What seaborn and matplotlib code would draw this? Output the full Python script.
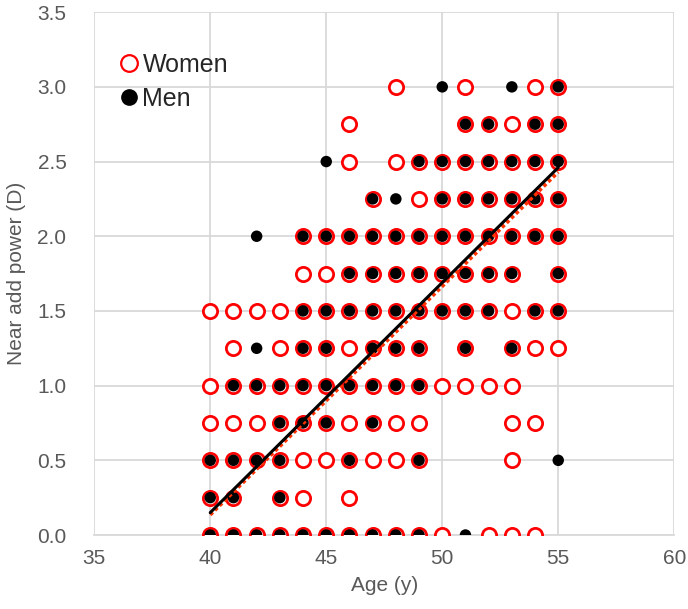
import numpy as np
import pandas as pd
import matplotlib
matplotlib.use("Agg")
import matplotlib.pyplot as plt
from matplotlib.lines import Line2D
import seaborn as sns

# near add power levels (D) and the ages (y) that have a point at each level
power_levels = [0.0, 0.25, 0.5, 0.75, 1.0, 1.25, 1.5, 1.75, 2.0, 2.25, 2.5, 2.75, 3.0]

women_ages = [
    [40, 41, 42, 43, 44, 45, 46, 47, 48, 49, 50, 52, 53, 54],
    [40, 41, 43, 44, 46],
    [40, 41, 42, 43, 44, 45, 46, 47, 48, 49, 53],
    [40, 41, 42, 43, 44, 45, 46, 47, 48, 49, 53, 54],
    [40, 41, 42, 43, 44, 45, 46, 47, 48, 49, 50, 51, 52, 53],
    [41, 43, 44, 45, 46, 47, 48, 49, 51, 53, 54, 55],
    [40, 41, 42, 43, 44, 45, 46, 47, 48, 49, 50, 51, 52, 53, 54, 55],
    [44, 45, 46, 47, 48, 49, 50, 51, 52, 53, 55],
    [44, 45, 46, 47, 48, 49, 50, 51, 52, 53, 54, 55],
    [47, 49, 50, 51, 52, 53, 54, 55],
    [46, 48, 49, 50, 51, 52, 53, 54, 55],
    [46, 51, 52, 53, 54, 55],
    [48, 51, 54, 55],
]

men_ages = [
    [40, 41, 42, 43, 44, 45, 46, 47, 48, 49, 51],
    [40, 41, 43],
    [40, 41, 42, 43, 46, 49, 55],
    [43, 44, 45, 47],
    [41, 42, 43, 44, 45, 46, 47, 48, 49],
    [42, 44, 45, 47, 48, 49, 51, 53],
    [44, 45, 46, 47, 48, 49, 50, 51, 52, 54, 55],
    [46, 47, 48, 49, 50, 51, 52, 53, 55],
    [42, 44, 45, 46, 47, 48, 49, 50, 51, 52, 53, 54, 55],
    [47, 48, 50, 51, 52, 53, 54, 55],
    [45, 49, 50, 51, 52, 53, 54, 55],
    [51, 52, 54, 55],
    [50, 53, 55],
]

# linear trend lines (endpoints)
trend_age = [40, 55]
women_trend = [0.135, 2.43]
men_trend = [0.15, 2.46]


def to_frame(rows):
    ages, powers = [], []
    for p, row in zip(power_levels, rows):
        ages += row
        powers += [p] * len(row)
    return pd.DataFrame({"Age": ages, "Power": powers})


women = to_frame(women_ages)
men = to_frame(men_ages)

sns.set_style("white")
plt.rcParams["font.family"] = ["Liberation Sans", "DejaVu Sans"]

fig = plt.figure(figsize=(6.88, 6.09), dpi=100)
ax = fig.add_axes([0.137, 0.1215, 0.843, 0.8585])

grid_col = "#d9d9d9"
text_col = "#595959"

# women first, men drawn over them
sns.scatterplot(data=women, x="Age", y="Power", ax=ax, marker="o", s=105,
                facecolor="white", edgecolor="#ff0000", linewidth=2.0,
                zorder=3)
sns.scatterplot(data=men, x="Age", y="Power", ax=ax, marker="o", s=68,
                color="black", edgecolor="none", linewidth=0, zorder=4)

sns.lineplot(x=trend_age, y=women_trend, ax=ax, color="#ff3300",
             linewidth=2.6, linestyle=(0, (1, 0.8)), zorder=5)
sns.lineplot(x=trend_age, y=men_trend, ax=ax, color="black",
             linewidth=2.2, zorder=6)

ax.set_xlim(35, 60)
ax.set_ylim(0, 3.5)
ax.set_xticks([35, 40, 45, 50, 55, 60])
ax.set_yticks(np.arange(0, 3.51, 0.5))
ax.set_yticklabels([f"{v:.1f}" for v in np.arange(0, 3.51, 0.5)])
ax.grid(True, color=grid_col, linewidth=1.3)
ax.set_axisbelow(True)
for sp in ax.spines.values():
    sp.set_visible(False)
ax.spines["bottom"].set_visible(True)
ax.spines["bottom"].set_color(grid_col)
ax.spines["bottom"].set_linewidth(1.3)

ax.tick_params(axis="both", length=0, labelsize=15, labelcolor=text_col)
ax.tick_params(axis="y", pad=20)
ax.tick_params(axis="x", pad=10)
ax.set_xlabel("Age (y)", fontsize=15, color=text_col, labelpad=6)
ax.set_ylabel("Near add power (D)", fontsize=15, color=text_col, labelpad=8)

handles = [
    Line2D([], [], linestyle="none", marker="o", markersize=12,
           markerfacecolor="white", markeredgecolor="#ff0000",
           markeredgewidth=1.6),
    Line2D([], [], linestyle="none", marker="o", markersize=11,
           markerfacecolor="black", markeredgecolor="black"),
]
ax.legend(handles, ["Women", "Men"], loc="upper left",
          bbox_to_anchor=(0.012, 0.955), frameon=False, fontsize=18,
          handlelength=0.8, handletextpad=0.15, labelspacing=0.4,
          borderaxespad=0.3)

fig.savefig("out.png", dpi=100)
